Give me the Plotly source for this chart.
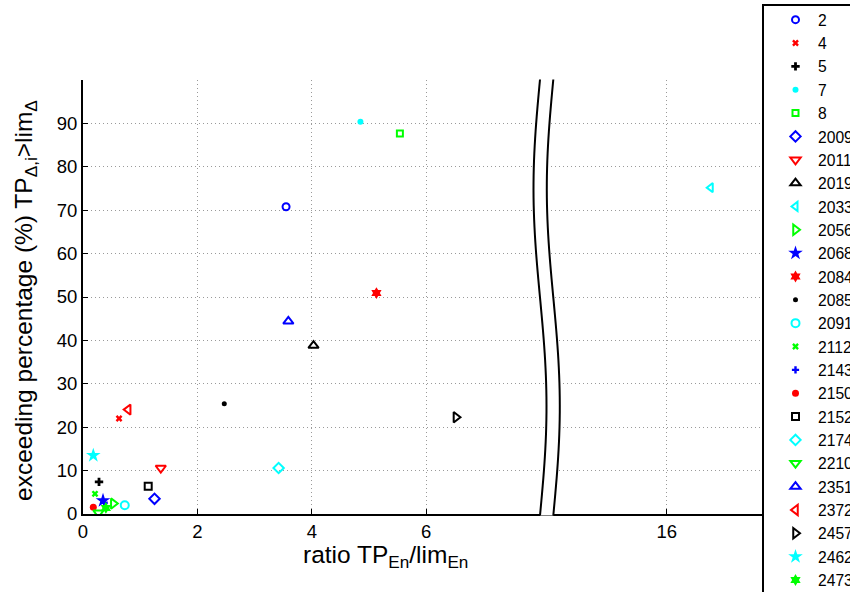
import numpy as np
import plotly.graph_objects as go

# ---------------- data ----------------
names = ["2", "4", "5", "7", "8", "2009", "2011", "2019", "2033", "2056",
         "2068", "2084", "2085", "2091", "2112", "2143", "2150", "2152",
         "2174", "2210", "2351", "2372", "2457", "2462", "2473"]
ratio = [3.55, 0.63, 0.28, 4.85, 5.54, 1.25, 1.36, 4.03, 16.77, 0.53,
         0.35, 5.13, 2.47, 0.73, 0.21, 0.37, 0.18, 1.14,
         3.42, 0.27, 3.59, 0.79, 6.52, 0.18, 0.40]
exceed = [70.8, 22.0, 7.4, 90.4, 87.7, 3.5, 10.6, 38.8, 75.2, 2.4,
          3.1, 50.9, 25.4, 2.0, 4.65, 2.6, 1.55, 6.4,
          10.6, 0.3, 44.4, 24.05, 22.3, 13.5, 1.4]
colors = ["#0000FF", "#FF0000", "#000000", "#00FFFF", "#00FF00"]
symbols = ["circle-open", "x", "cross", "circle", "square-open",
           "diamond-open", "triangle-down-open", "triangle-up-open", "triangle-left-open", "triangle-right-open",
           "star", "hexagram", "circle", "circle-open", "x",
           "cross", "circle", "square-open", "diamond-open", "triangle-down-open",
           "triangle-up-open", "triangle-left-open", "triangle-right-open", "star", "hexagram"]
sizes = [7, 6, 7, 6, 6, 8, 9, 9, 8, 9,
         11, 9, 5, 8, 6, 6, 7, 7, 8, 9,
         9, 9, 9, 11, 9]
xticks_left = [0, 2, 4, 6]
xticks_right = [16]
yticks = [0, 10, 20, 30, 40, 50, 60, 70, 80, 90, 100]
ytext = ["0", "10", "20", "30", "40", "50", "60", "70", "80", "90", ""]

# ---------------- geometry ----------------
W, H = 850, 592
L, R, T, B = 83, 87, 80, 78
pw, ph = W - L - R, H - T - B
px_per_unit = 57.2
split_px = 546.5           # where the two x axes meet (center of break)
x16_px = 666.7
left_dom = (split_px - L) / pw
left_max = (split_px - L) / px_per_unit
right_min = 16 - (x16_px - split_px) / px_per_unit
right_max = right_min + (L + pw - split_px) / px_per_unit
break_value = 10

FONT = "Liberation Sans, Arial, Helvetica, sans-serif"

fig = go.Figure()
for i, n in enumerate(names):
    c = colors[i % 5]
    sym = symbols[i]
    is_open = sym.endswith("open")
    fig.add_trace(go.Scatter(
        x=[ratio[i]], y=[exceed[i]], name=n, mode="markers",
        xaxis="x2" if ratio[i] > break_value else "x", yaxis="y",
        legendgroup=n,
        marker=dict(symbol=sym, size=sizes[i], color=c,
                    line=dict(color=c, width=2 if is_open else 0)),
    ))

grid = dict(showgrid=True, gridcolor="#9a9a9a", gridwidth=1, griddash="1px,3px")
axis_common = dict(showline=True, linecolor="black", linewidth=2, ticks="inside",
                   ticklen=5, tickwidth=1, tickcolor="black", zeroline=False,
                   tickfont=dict(family=FONT, size=18.5, color="black"), **grid)

fig.update_layout(
    width=W, height=H, margin=dict(l=L, r=R, t=T, b=B, autoexpand=False),
    plot_bgcolor="white", paper_bgcolor="white",
    xaxis=dict(domain=[0, left_dom], range=[0, left_max], tickvals=xticks_left,
               anchor="y", **axis_common),
    xaxis2=dict(domain=[left_dom, 1], range=[right_min, right_max], tickvals=xticks_right,
                anchor="y", **axis_common),
    yaxis=dict(range=[0, 100], tickvals=yticks, ticktext=ytext, anchor="x", **axis_common),
    showlegend=True,
    legend=dict(xref="container", yref="container", x=773 / W, y=1 - 3 / H,
                xanchor="left", yanchor="top", borderwidth=0, itemwidth=35,
                bgcolor="rgba(0,0,0,0)", font=dict(family=FONT, size=15.65, color="black"),
                tracegroupgap=0, maxheight=900),
)

# legend box (extends past the page edge, as in the reference)
fig.add_shape(type="rect", xref="paper", yref="paper",
              x0=(763 - L) / pw, x1=(960 - L) / pw,
              y0=(H - B - 700) / ph, y1=(H - B - 5) / ph,
              line=dict(color="black", width=2), fillcolor="rgba(0,0,0,0)", layer="above")

# axis titles
fig.add_annotation(text="ratio TP<sub>En</sub>/lim<sub>En</sub>", xref="paper", yref="paper",
                   x=(385 - L) / pw, y=(H - B - 556) / ph, showarrow=False,
                   font=dict(family=FONT, size=24.5, color="black"), xanchor="center", yanchor="middle")
fig.add_annotation(text="exceeding percentage (%) TP<sub>Δ,i</sub>&gt;lim<sub>Δ</sub>",
                   xref="paper", yref="paper", x=(25 - L) / pw, y=(H - B - 301) / ph,
                   showarrow=False, textangle=-90,
                   font=dict(family=FONT, size=24.5, color="black"), xanchor="center", yanchor="middle")

# axis break (wavy double line)
t = np.linspace(0, 1, 60)
def px2paper(xp, yp):
    return (xp - L) / pw, (H - B - yp) / ph
top_px, bot_px = T - 0.5, H - B + 1.5
yy = top_px + t * (bot_px - top_px)
xl = 540 - 6.5 * np.sin(2 * np.pi * t)
xr = xl + 13.3
pl = [px2paper(a, b) for a, b in zip(xl, yy)]
pr = [px2paper(a, b) for a, b in zip(xr, yy)]
fill = "M" + " L".join(f"{a:.5f},{b:.5f}" for a, b in pl) + " L" + \
       " L".join(f"{a:.5f},{b:.5f}" for a, b in pr[::-1]) + " Z"
fig.add_shape(type="path", path=fill, xref="paper", yref="paper",
              fillcolor="white", line=dict(width=0), layer="above")
for pts in (pl, pr):
    p = "M" + " L".join(f"{a:.5f},{b:.5f}" for a, b in pts)
    fig.add_shape(type="path", path=p, xref="paper", yref="paper",
                  line=dict(color="black", width=2), layer="above")

fig.write_html("out.html")
